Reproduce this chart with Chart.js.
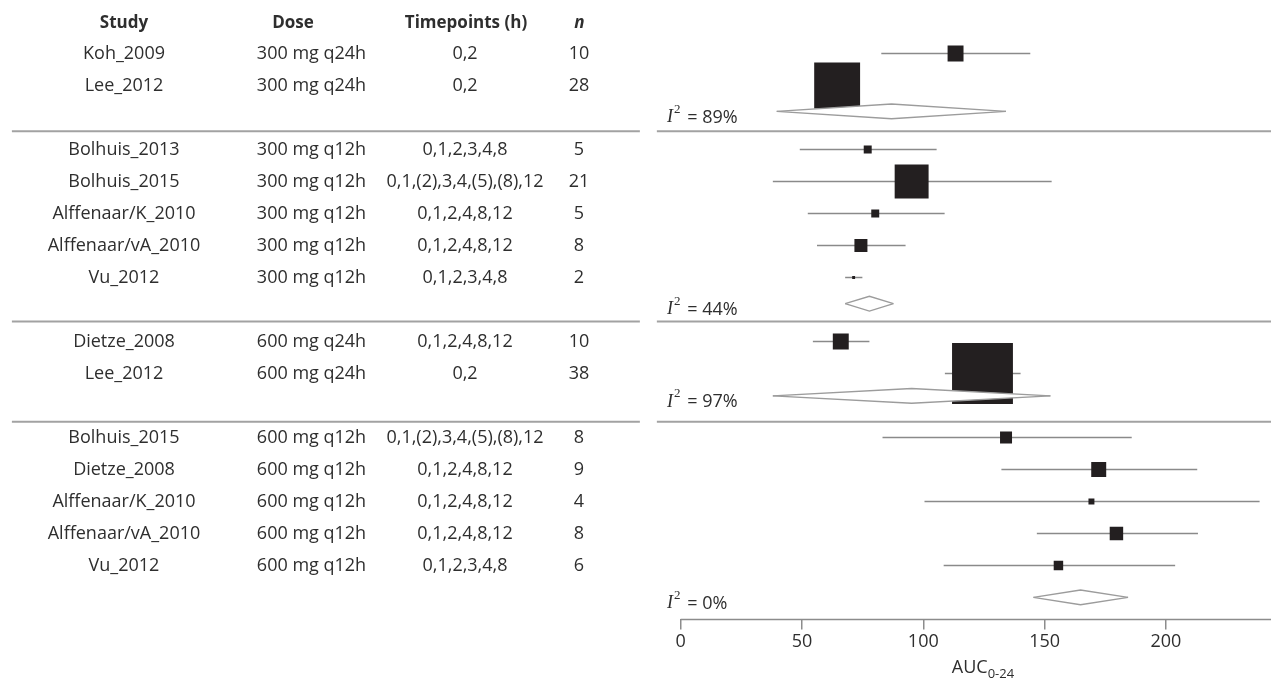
<!DOCTYPE html>
<html>
<head>
<meta charset="utf-8">
<script src="https://cdn.jsdelivr.net/npm/chart.js@4.4.1/dist/chart.umd.min.js"></script>
<style>
  html, body { margin: 0; padding: 0; background: #fff; }
  #wrap { position: relative; width: 1271px; height: 680px; }
</style>
</head>
<body>
<div id="wrap"><canvas id="forest"></canvas></div>
<script>
// ---- data ----
const groupSizes = [2, 5, 2, 5];
const studies = ["Koh_2009", "Lee_2012", "Bolhuis_2013", "Bolhuis_2015", "Alffenaar/K_2010", "Alffenaar/vA_2010", "Vu_2012",
  "Dietze_2008", "Lee_2012", "Bolhuis_2015", "Dietze_2008", "Alffenaar/K_2010", "Alffenaar/vA_2010", "Vu_2012"];
const doses = ["300 mg q24h", "300 mg q24h", "300 mg q12h", "300 mg q12h", "300 mg q12h", "300 mg q12h", "300 mg q12h",
  "600 mg q24h", "600 mg q24h", "600 mg q12h", "600 mg q12h", "600 mg q12h", "600 mg q12h", "600 mg q12h"];
const timepoints = ["0,2", "0,2", "0,1,2,3,4,8", "0,1,(2),3,4,(5),(8),12", "0,1,2,4,8,12", "0,1,2,4,8,12", "0,1,2,3,4,8",
  "0,1,2,4,8,12", "0,2", "0,1,(2),3,4,(5),(8),12", "0,1,2,4,8,12", "0,1,2,4,8,12", "0,1,2,4,8,12", "0,1,2,3,4,8"];
const nPatients = [10, 28, 5, 21, 5, 8, 2, 10, 38, 8, 9, 4, 8, 6];
const auc = [113.3, 64.5, 77.1, 95.2, 80.2, 74.3, 71.3, 66.0, 124.4, 134.1, 172.3, 169.3, 179.6, 155.7];
const ciLow = [82.7, 58.5, 49.1, 38.0, 52.4, 56.2, 67.8, 54.5, 108.9, 83.2, 132.2, 100.5, 146.8, 108.4];
const ciHigh = [144.1, 70.5, 105.5, 152.9, 108.8, 92.7, 74.9, 77.8, 140.1, 185.9, 212.9, 238.6, 213.2, 203.8];
const weights = [3.0, 24.9, 0.75, 13.6, 0.75, 2.0, 0.1, 3.0, 43.8, 1.7, 2.65, 0.42, 2.14, 1.06];
const pooled = [86.9, 77.8, 95.2, 164.8];
const pooledLow = [39.6, 67.8, 38.0, 145.4];
const pooledHigh = [134.1, 87.7, 152.4, 184.4];
const i2 = [89, 44, 97, 0];
const xTicks = [0, 50, 100, 150, 200];
const headers = ["Study", "Dose", "Timepoints (h)", "n"];

// ---- layout ----
const X_MIN = -280.5, X_MAX = 243.3;
const Y_TOP = -0.672, Y_BOTTOM = 18.6875;
const diamondShift = [-0.19, -0.18, -0.30, 0];
const sepShift = [0.43, 0.38, 0.51];
const DIAMOND_HALF = 0.23;
const SQUARE_SCALE = 9.2; // px of side per sqrt(weight %)
const FONT = '"Open Sans", "Noto Sans", sans-serif';
const TEXT = "#2e2e2e";

// row index for each study and each pooled line
const rowOf = [];
const summaryRow = [];
let r = 1;
groupSizes.forEach(size => {
  for (let i = 0; i < size; i++) rowOf.push(r++);
  summaryRow.push(r);
  r += 1;
});

const gap = { x: null, y: null };

const ciData = [];
auc.forEach((v, i) => {
  ciData.push({ x: ciLow[i], y: rowOf[i] }, { x: ciHigh[i], y: rowOf[i] }, gap);
});

const sepData = [];
sepShift.forEach((s, g) => {
  const yy = summaryRow[g] + s;
  sepData.push({ x: -275.6, y: yy }, { x: -16.8, y: yy }, gap, { x: -9.8, y: yy }, { x: X_MAX, y: yy }, gap);
});

const diamondSets = [];
pooled.forEach((v, g) => {
  const yy = summaryRow[g] + diamondShift[g];
  const base = { type: "line", borderColor: "#9c9c9c", borderWidth: 1.4, pointRadius: 0, order: 0, backgroundColor: "#fff" };
  diamondSets.push(Object.assign({}, base, {
    data: [{ x: pooledLow[g], y: yy }, { x: v, y: yy - DIAMOND_HALF }, { x: pooledHigh[g], y: yy }],
    fill: false
  }));
  diamondSets.push(Object.assign({}, base, {
    data: [{ x: pooledLow[g], y: yy }, { x: v, y: yy + DIAMOND_HALF }, { x: pooledHigh[g], y: yy }],
    fill: "-1"
  }));
});

const textPlugin = {
  id: "forestText",
  afterDraw(chart) {
    const { ctx, scales: { x, y }, chartArea } = chart;
    ctx.save();
    // axis line from 0 to the end
    ctx.strokeStyle = "#8c8c8c";
    ctx.lineWidth = 1.5;
    ctx.beginPath();
    ctx.moveTo(x.getPixelForValue(0), chartArea.bottom);
    ctx.lineTo(x.getPixelForValue(X_MAX), chartArea.bottom);
    ctx.stroke();

    ctx.fillStyle = TEXT;
    ctx.textBaseline = "middle";
    ctx.textAlign = "center";

    // header
    const hy = y.getPixelForValue(0) + 1.5;
    const headX = [124, 293, 466, 579.5];
    headers.forEach((h, i) => {
      ctx.font = (i === 3 ? "italic bold 17px " : "bold 17px ") + FONT;
      ctx.fillText(h, headX[i], hy);
    });

    // table rows
    ctx.font = "18px " + FONT;
    studies.forEach((s, i) => {
      const py = y.getPixelForValue(rowOf[i]);
      ctx.fillText(s, 124, py);
      ctx.fillText(doses[i], 311.5, py);
      ctx.fillText(timepoints[i], 465, py);
      ctx.fillText(String(nPatients[i]), 579, py);
    });

    // heterogeneity labels
    ctx.textAlign = "left";
    i2.forEach((v, g) => {
      const py = y.getPixelForValue(summaryRow[g] + diamondShift[g]) + 6;
      let px = 667;
      ctx.font = 'italic 18px "Liberation Serif", serif';
      ctx.fillText("I", px, py);
      px += ctx.measureText("I").width + 1;
      ctx.font = '13px "Liberation Serif", serif';
      ctx.fillText("2", px, py - 8);
      px += ctx.measureText("2").width + 2;
      ctx.font = "18px " + FONT;
      ctx.fillText(" = " + v + "%", px, py);
    });

    // axis title AUC0-24
    ctx.font = "18px " + FONT;
    const wMain = ctx.measureText("AUC").width;
    ctx.font = "13px " + FONT;
    const wSub = ctx.measureText("0-24").width;
    const start = 983 - (wMain + wSub) / 2;
    ctx.font = "18px " + FONT;
    ctx.fillText("AUC", start, 668);
    ctx.font = "13px " + FONT;
    ctx.fillText("0-24", start + wMain, 674);
    ctx.restore();
  }
};

const ctx = document.getElementById("forest").getContext("2d");
new Chart(ctx, {
  data: {
    datasets: [
      ...diamondSets,
      {
        type: "scatter",
        data: auc.map((v, i) => ({ x: v, y: rowOf[i] })),
        pointStyle: "rect",
        pointRadius: weights.map(w => SQUARE_SCALE * Math.sqrt(w) / Math.SQRT2),
        pointBackgroundColor: "#231f20",
        pointBorderWidth: 0,
        order: 1
      },
      {
        type: "line",
        data: ciData,
        borderColor: "#8a8a8a",
        borderWidth: 1.5,
        pointRadius: 0,
        fill: false,
        order: 2
      },
      {
        type: "line",
        data: sepData,
        borderColor: "#a2a2a2",
        borderWidth: 2,
        pointRadius: 0,
        fill: false,
        order: 3
      }
    ]
  },
  options: {
    responsive: true,
    maintainAspectRatio: false,
    animation: false,
    events: [],
    layout: { autoPadding: false, padding: { top: 0, left: 0, right: 0, bottom: 25 } },
    plugins: { legend: { display: false }, tooltip: { enabled: false } },
    scales: {
      x: {
        type: "linear",
        position: "bottom",
        min: X_MIN,
        max: X_MAX,
        afterBuildTicks: axis => { axis.ticks = xTicks.map(v => ({ value: v })); },
        grid: { drawOnChartArea: false, drawTicks: true, tickLength: 10, color: "#8c8c8c", lineWidth: 1.5 },
        border: { display: false },
        ticks: { font: { family: FONT, size: 18 }, color: TEXT, padding: 2, maxRotation: 0 }
      },
      y: {
        type: "linear",
        display: false,
        reverse: true,
        min: Y_TOP,
        max: Y_BOTTOM
      }
    }
  },
  plugins: [textPlugin]
});
</script>
</body>
</html>
